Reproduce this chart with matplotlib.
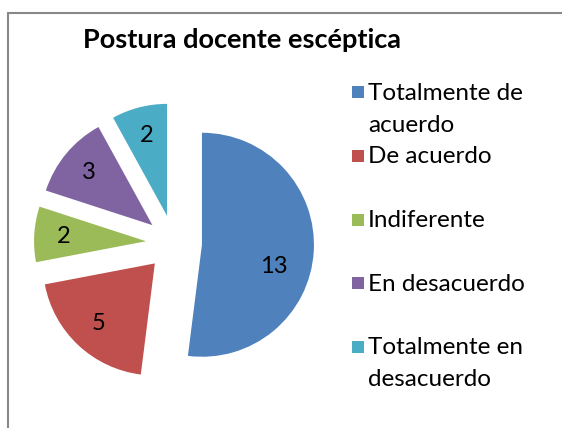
import matplotlib
matplotlib.use('Agg')
import matplotlib.pyplot as plt
from matplotlib.patches import Rectangle

plt.rcParams['font.family'] = ['Lato', 'DejaVu Sans']

# data
categories = ['Totalmente de\nacuerdo', 'De acuerdo', 'Indiferente',
              'En desacuerdo', 'Totalmente en\ndesacuerdo']
values = [13, 5, 2, 3, 2]
colors = ['#4F81BD', '#C0504D', '#9BBB59', '#8064A2', '#4BACC6']
title = 'Postura docente escéptica'

W, H = 562, 428
fig = plt.figure(figsize=(W / 100, H / 100), dpi=100)

# chart area frame (only left and top edges visible)
fig.add_artist(Rectangle((8 / W, -0.5), 2, (H - 13) / H + 0.5,
                         transform=fig.transFigure, fill=False,
                         edgecolor='#888888', lw=1.5))

# pie
ax = fig.add_axes([6 / W, 17 / H, 336 / W, 336 / H])
total = sum(values)
wedges, texts, autotexts = ax.pie(
    values, colors=colors, startangle=90, counterclock=False,
    explode=[0.25] * len(values),
    autopct=lambda p: '%d' % round(p * total / 100.0),
    pctdistance=0.74,
    textprops=dict(fontsize=17, color='black'))
# big slice label sits a bit lower, like the original
x0, y0 = autotexts[0].get_position()
autotexts[0].set_position((x0 - 0.1, y0 - 0.15))
ax.set_xlim(-1.5, 1.5)
ax.set_ylim(-1.5, 1.5)
ax.axis('off')

# title
fig.text(242 / W, 1 - 40 / H, title, ha='center', va='center',
         fontsize=19.5, fontweight='bold')

# legend, drawn by hand so the marker sits on the first line
for i, (lab, c) in enumerate(zip(categories, colors)):
    yc = 92 + i * 63.75
    fig.add_artist(Rectangle((352 / W, 1 - (yc + 6) / H), 12 / W, 12 / H,
                             transform=fig.transFigure, color=c, lw=0))
    for j, line in enumerate(lab.split('\n')):
        fig.text(368 / W, 1 - (yc + 1 + j * 32) / H, line, ha='left',
                 va='center', fontsize=17.5)

fig.savefig('out.png', dpi=100)
